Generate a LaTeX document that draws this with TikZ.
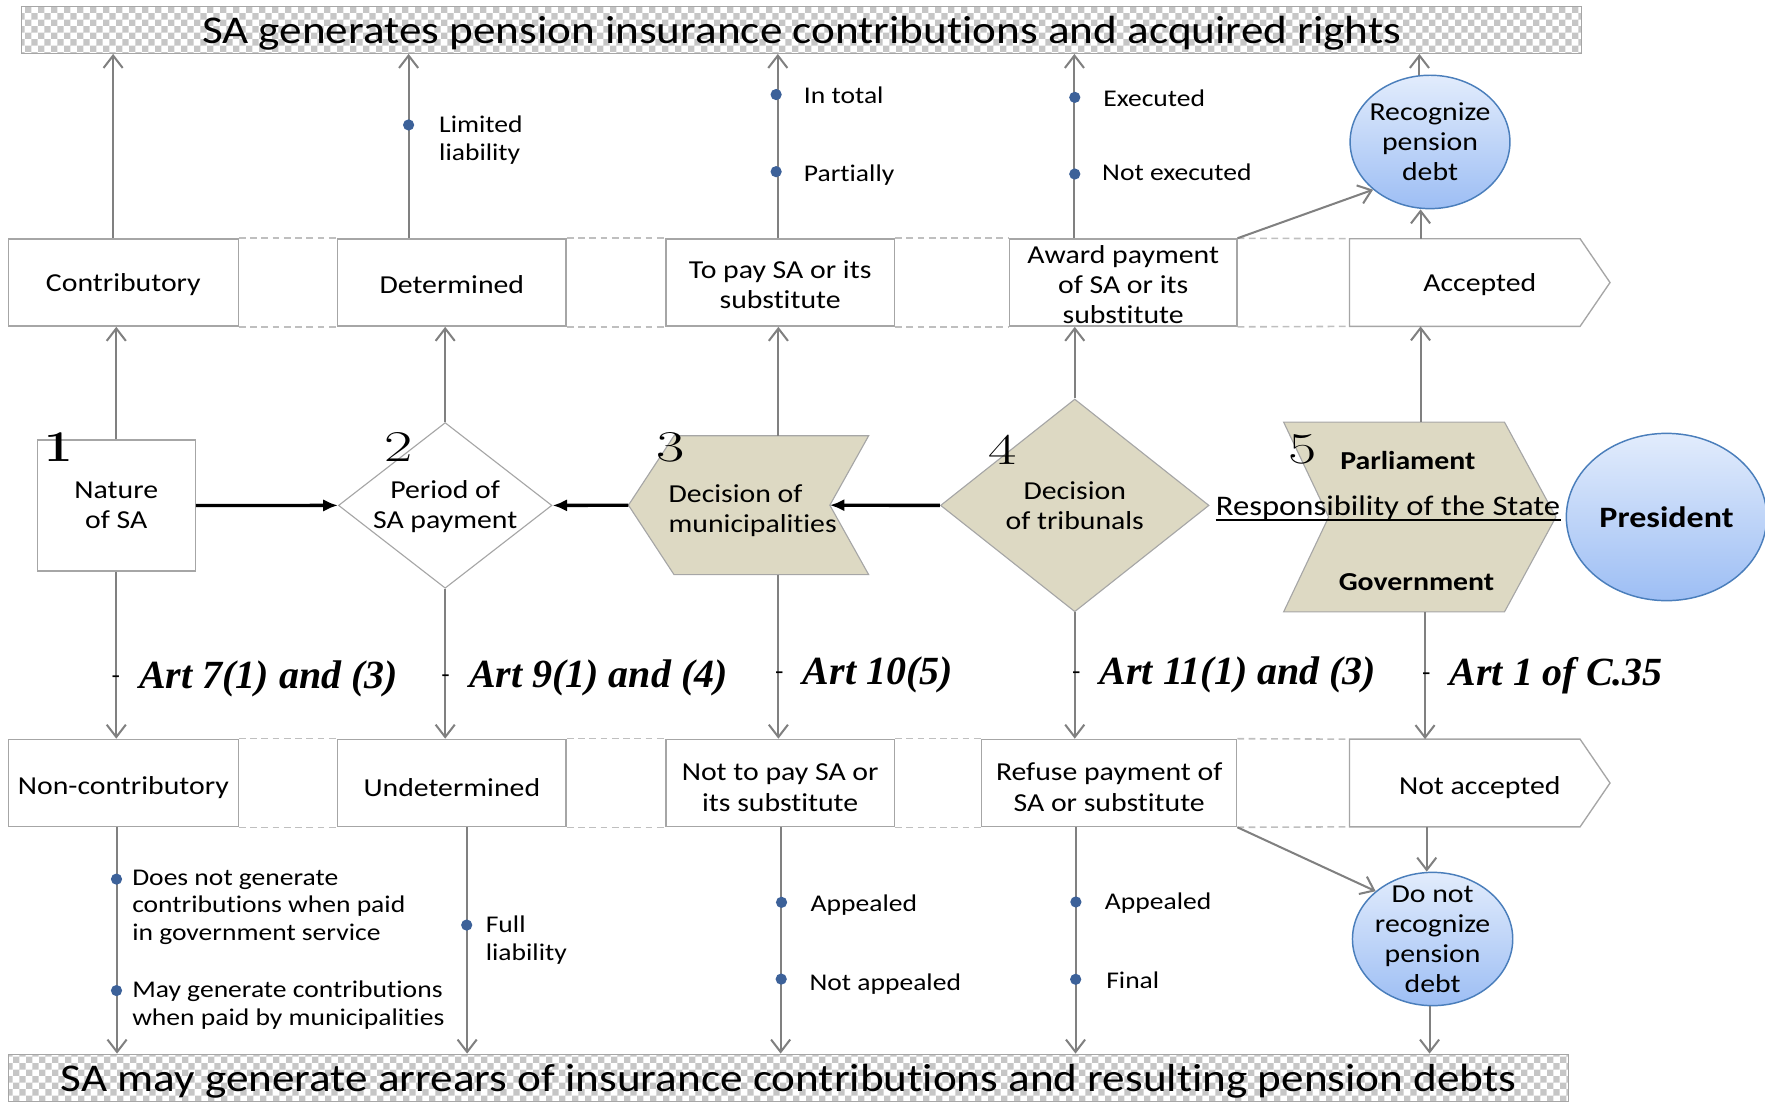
\documentclass[tikz,border=0pt]{standalone}
\usepackage{fontspec}
\usepackage{graphicx}
\usetikzlibrary{arrows.meta,patterns,backgrounds,shapes.geometric}
\newfontfamily\cf{Carlito}[FakeStretch=1.15,Ligatures=NoCommon]
\newfontfamily\artf{Liberation Serif}
\newcommand\boxf{\cf\fontsize{23}{27}\selectfont}
\newcommand\lblf{\cf\fontsize{21.3}{24.5}\selectfont}
\newcommand\banf{\cf\fontsize{34.9}{40}\selectfont}
\newcommand\artfont{\artf\bfseries\itshape\fontsize{35.5}{40}\selectfont}
\newcommand\numf{\fontsize{39}{40}\selectfont}
\newcommand\wdig[1]{\scalebox{1.4}[1]{#1}}
\newcommand\artlbl[1]{\raisebox{4.5pt}{\lblf -}\hspace{17pt}{\artfont #1}}
\definecolor{lgray}{HTML}{A6A6A6}
\definecolor{mgray}{HTML}{808080}
\definecolor{dgray}{HTML}{BFBFBF}
\definecolor{beige}{HTML}{DDD9C3}
\definecolor{dotblue}{HTML}{3C6199}
\definecolor{ellborder}{HTML}{4A7EBB}
\definecolor{elltop}{HTML}{E2ECFC}
\definecolor{ellbot}{HTML}{9DBEF4}
\begin{document}
\begin{tikzpicture}[x=1pt,y=-1pt,
 txtdown/.style={execute at begin node={\rule{0pt}{#1}}},
 sabox/.style={draw=lgray,line width=1.2pt,fill=white,inner sep=0pt,align=center,font=\boxf,minimum height=77.5pt},
 ghost/.style={inner sep=0pt,draw=none,align=center,font=\boxf},
 banner/.style={draw=lgray,line width=1pt,pattern=checkerboard,pattern color=gray!45,inner sep=0pt,minimum width=1386pt,minimum height=42pt,font=\banf,txtdown=31pt},
 ell/.style={ellipse,draw=ellborder,line width=1.3pt,top color=elltop,bottom color=ellbot,inner sep=0pt},
 txt/.style={font=\boxf,align=center,inner sep=0pt},
 lbl/.style={font=\lblf,align=left,inner sep=0pt,anchor=west},
 numst/.style={font=\numf,inner sep=0pt},
 artst/.style={inner sep=0pt,anchor=base west},
 gline/.style={draw=mgray,line width=1.8pt},
 garrow/.style={gline,-{Straight Barb[length=11pt,width=17pt]}},
 barrow/.style={line width=3pt,-{Latex[length=13pt,width=11pt]}},
 dashln/.style={draw=dgray,line width=1.4pt,dash pattern=on 6pt off 4pt},
 bdot/.style={fill=dotblue}
]
\useasboundingbox (0,0) rectangle (1568,979);

% banners
\node[banner] (top) at (712.2,26.4) {SA generates pension insurance contributions and acquired rights};
\node[banner] (bot) at (700.5,957.5) {SA may generate arrears of insurance contributions and resulting pension debts};

% top row
\node[sabox,minimum width=204pt,txtdown=19.6pt] (contr) at (109.6,251) {Contributory};
\node[sabox,minimum width=203pt,txtdown=19.6pt] (det) at (401.4,251) {Determined};
\node[sabox,minimum width=203pt] (topay) at (693.1,251) {\rule{0pt}{19.6pt}To pay SA or its\\substitute};
\node[sabox,minimum width=202pt] (award) at (997.8,251) {\rule{0pt}{19.6pt}Award payment\\of SA or its\\substitute};
\node[ghost,minimum width=231pt,minimum height=77.5pt,txtdown=19.6pt] (acc) at (1314.6,251) {Accepted};

% bottom row
\node[sabox,minimum width=204pt,txtdown=23.6pt] (noncontr) at (109.6,695.6) {Non-contributory};
\node[sabox,minimum width=203pt,txtdown=23.6pt] (undet) at (401.4,695.6) {Undetermined};
\node[sabox,minimum width=203pt] (nottopay) at (693.1,695.6) {\rule{0pt}{23.6pt}Not to pay SA or\\its substitute};
\node[sabox,minimum width=226.6pt] (refuse) at (985.4,695.6) {\rule{0pt}{23.6pt}Refuse payment of\\SA or substitute};
\node[ghost,minimum width=231pt,minimum height=77.5pt,txtdown=23.6pt] (notacc) at (1314.6,695.6) {Not accepted};

% middle row
\node[sabox,minimum width=140.3pt,minimum height=116.4pt] (nature) at (103.3,449.1) {Nature\\of SA};
\node[diamond,draw=lgray,line width=1pt,fill=white,inner sep=0pt,minimum width=189.7pt,minimum height=147.2pt,
  label={[txt,yshift=-1pt]center:{Period of\\SA payment}}] (d2) at (395.5,449) {};
\node[ghost,minimum width=213pt,minimum height=123pt,
  label={[txt,align=left,anchor=west,xshift=35.5pt,yshift=-4.7pt]west:{Decision of\\municipalities}}] (s3) at (665,448.8) {};
\node[diamond,draw=lgray,line width=1pt,fill=beige,inner sep=0pt,minimum width=238.6pt,minimum height=189pt,
  label={[txt]center:{Decision\\of tribunals}}] (d4) at (954.8,449) {};
\node[ghost,minimum width=241.5pt,minimum height=168.2pt] (s5) at (1261.3,459.3) {};
\node[txt,font=\boxf\bfseries] (parl) at (1250.7,409.5) {Parliament};
\node[txt,font=\boxf\bfseries] (gov) at (1258.4,517) {Government};
\node[inner sep=0pt,anchor=base west,font=\cf\fontsize{25.2}{28}\selectfont] (resp) at (1080,458) {Responsibility of the State};
\draw[line width=1.6pt] ([yshift=-4pt]resp.base west) -- ([yshift=-4pt]resp.base east);
\node[ell,minimum width=178pt,minimum height=148.6pt,
  label={[txt,font=\cf\bfseries\fontsize{26.3}{30}\selectfont]center:President}] (pres) at (1480.5,459.3) {};

% ellipses
\node[ell,minimum width=142pt,minimum height=118.5pt,
  label={[txt,font=\cf\fontsize{23}{26.5}\selectfont]center:{Recognize\\pension\\debt}}] (rec) at (1270.4,126.1) {};
\node[ell,minimum width=142.4pt,minimum height=118.4pt,
  label={[txt,font=\cf\fontsize{23}{26.7}\selectfont]center:{Do not\\recognize\\pension\\debt}}] (dnr) at (1272.7,834.2) {};

% numbers
\node[numst,font=\numf\bfseries] (n1) at (52.6,397.3) {\scalebox{1.15}[1]{1}};
\node[numst] (n2) at (354.5,397.5) {\wdig{2}};
\node[numst] (n3) at (596,397.5) {\wdig{3}};
\node[numst] (n4) at (890.6,400) {\wdig{4}};
\node[numst] (n5) at (1157.3,399) {\wdig{5}};

% background shapes
\begin{pgfonlayer}{background}
\draw[draw=lgray,line width=1pt,fill=beige] (s3.west) -- ([xshift=40.5pt]s3.north west) -- (s3.north east) -- ([xshift=-34.5pt]s3.east) -- (s3.south east) -- ([xshift=40.5pt]s3.south west) -- cycle;
\draw[draw=lgray,line width=1pt,fill=beige] (s5.north west) -- ([xshift=-45.7pt]s5.north east) -- (s5.east) -- ([xshift=-45.7pt]s5.south east) -- (s5.south west) -- ([xshift=40pt]s5.west) -- cycle;
\draw[draw=lgray,line width=1.2pt,fill=white] (acc.north west) -- ([xshift=-26.6pt]acc.north east) -- (acc.east) -- ([xshift=-26.6pt]acc.south east) -- (acc.south west) -- cycle;
\draw[draw=lgray,line width=1.2pt,fill=white] (notacc.north west) -- ([xshift=-26.6pt]notacc.north east) -- (notacc.east) -- ([xshift=-26.6pt]notacc.south east) -- (notacc.south west) -- cycle;
\end{pgfonlayer}

% column x positions
\coordinate (x1a) at (100.5,0);
\coordinate (x1c) at (104,0);
\coordinate (x2a) at (363,0);
\coordinate (x2c) at (415,0);
\coordinate (x3a) at (691,0);
\coordinate (x3b) at (691.5,0);
\coordinate (x3c) at (693.5,0);
\coordinate (x4a) at (954.5,0);
\coordinate (x4c) at (955.5,0);
\coordinate (x5a) at (1261,0);
\coordinate (x5b) at (1262,0);
\coordinate (x5c) at (1266,0);
\coordinate (x5d) at (1267.5,0);
\coordinate (x5e) at (1270,0);

% dashed links
\foreach \a/\b in {contr/det,det/topay,topay/award,award/acc,noncontr/undet,undet/nottopay,nottopay/refuse,refuse/notacc}{
  \draw[dashln] (\a.north east) -- (\b.north west);
  \draw[dashln] (\a.south east) -- (\b.south west);
}

% column 1
\draw[garrow] (contr.north -| x1a) -- (top.south -| x1a);
\draw[garrow] (nature.north) -- (contr.south -| nature.north);
\draw[garrow] (nature.south) -- (noncontr.north -| nature.south);
\draw[garrow] (noncontr.south -| x1c) -- (bot.north -| x1c);
% column 2
\draw[garrow] (det.north -| x2a) -- (top.south -| x2a);
\draw[garrow] (d2.north) -- (det.south -| d2.north);
\draw[garrow] (d2.south) -- (undet.north -| d2.south);
\draw[garrow] (undet.south -| x2c) -- (bot.north -| x2c);
% column 3
\draw[garrow] (topay.north -| x3a) -- (top.south -| x3a);
\draw[garrow] (s3.north -| x3b) -- (topay.south -| x3b);
\draw[garrow] (s3.south -| x3b) -- (nottopay.north -| x3b);
\draw[garrow] (nottopay.south -| x3c) -- (bot.north -| x3c);
% column 4
\draw[garrow] (award.north -| x4a) -- (top.south -| x4a);
\draw[garrow] (d4.north) -- (award.south -| d4.north);
\draw[garrow] (d4.south) -- (refuse.north -| d4.south);
\draw[garrow] (refuse.south -| x4c) -- (bot.north -| x4c);
% column 5
\draw[garrow] (rec.north -| x5a) -- (top.south -| x5a);
\draw[garrow] (acc.north -| x5b) -- (rec.south -| x5b);
\draw[garrow] (s5.north -| x5b) -- (acc.south -| x5b);
\draw[garrow] (s5.south -| x5c) -- (notacc.north -| x5c);
\draw[garrow] (notacc.south -| x5d) -- (dnr.north -| x5d);
\draw[garrow] (dnr.south -| x5e) -- (bot.north -| x5e);
% diagonals
\draw[garrow] (award.north east) -- (rec.220);
\draw[garrow] (refuse.south east) -- (dnr.140);

% thick black arrows
\draw[barrow] (nature.east) -- (d2.west);
\draw[barrow] (s3.west) -- (d2.east);
\draw[barrow] (d4.west) -- ([xshift=-34.5pt]s3.east);

% dots
\foreach \p in {(363,111),(689.5,84),(689.5,152.5),(954.8,86.5),(954.8,154.6),
  (103.5,781),(103.5,880),(414.6,821.8),(694.3,801.6),(694,869.8),(955.8,801.3),(955.6,870)}{
  \fill[bdot] \p circle[radius=5pt];
}

% labels
\node[lbl] (l1) at (390,124.5) {Limited\\liability};
\node[lbl] (l2) at (714,84.4) {In total};
\node[lbl] (l3) at (714,155.5) {Partially};
\node[lbl] (l4) at (980,87) {Executed};
\node[lbl] (l5) at (979,153) {Not executed};
\node[lbl] (l6) at (117.3,806) {Does not generate\\contributions when paid\\in government service};
\node[lbl] (l7) at (117.3,893) {May generate contributions\\when paid by municipalities};
\node[lbl] (l8) at (431.4,835) {Full\\liability};
\node[lbl] (l9) at (720,804) {Appealed};
\node[lbl] (l10) at (719,874) {Not appealed};
\node[lbl] (l11) at (981.4,802) {Appealed};
\node[lbl] (l12) at (982.6,870.6) {Final};

% article labels
\node[artst] (a1) at (99,612) {\artlbl{Art 7(1) and (3)}};
\node[artst] (a2) at (392,611) {\artlbl{Art 9(1) and (4)}};
\node[artst] (a3) at (688.5,608) {\artlbl{Art 10(5)}};
\node[artst] (a4) at (952.3,608) {\artlbl{Art 11(1) and (3)}};
\node[artst] (a5) at (1263.2,609) {\artlbl{Art 1 of C.35}};
\end{tikzpicture}
\end{document}
